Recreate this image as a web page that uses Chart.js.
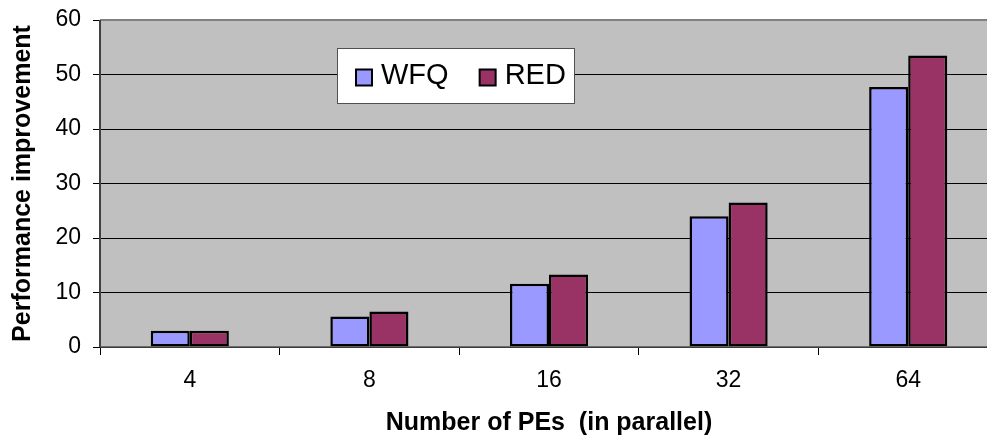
<!DOCTYPE html>
<html>
<head>
<meta charset="utf-8">
<script src="https://cdn.jsdelivr.net/npm/chart.js@4.4.1/dist/chart.umd.min.js"></script>
<style>
  html, body { margin: 0; padding: 0; background: #fff; overflow: hidden; }
  #wrap { width: 1010px; height: 441px; }
</style>
</head>
<body>
<div id="wrap"><canvas id="c" width="1010" height="441"></canvas></div>
<script>
// Number of processing elements run in parallel
const categories = ['4', '8', '16', '32', '64'];
// Performance improvement per queueing scheme
const wfqValues = [3.0, 5.6, 11.6, 24.0, 47.7];
const redValues = [3.0, 6.5, 13.3, 26.5, 53.5];
const seriesNames = ['WFQ', 'RED'];
const yTicks = [0, 10, 20, 30, 40, 50, 60];

const FONT = '"Liberation Sans", Arial, sans-serif';

// Grey plot-area fill behind the bars, plus frame and axis lines on top
const plotBackground = {
  id: 'plotBackground',
  beforeDraw(chart) {
    const { ctx, chartArea: a } = chart;
    ctx.save();
    ctx.fillStyle = '#C0C0C0';
    ctx.fillRect(a.left, a.top, a.right - a.left, a.bottom - a.top);
    ctx.restore();
  },
  afterDatasetsDraw(chart) {
    const { ctx, chartArea: a } = chart;
    ctx.save();
    ctx.strokeStyle = '#808080';
    ctx.lineWidth = 2;
    ctx.beginPath();
    ctx.moveTo(a.left, a.top);
    ctx.lineTo(a.right, a.top);
    ctx.stroke();
    ctx.strokeStyle = '#404040';
    ctx.lineWidth = 2;
    ctx.beginPath();
    ctx.moveTo(a.left, a.top);
    ctx.lineTo(a.left, a.bottom);
    ctx.stroke();
    ctx.lineWidth = 1.5;
    ctx.strokeStyle = '#505050';
    ctx.beginPath();
    ctx.moveTo(a.left, a.bottom);
    ctx.lineTo(a.right, a.bottom);
    ctx.stroke();
    ctx.restore();
  }
};

// Boxed legend floating inside the plot area
const boxedLegend = {
  id: 'boxedLegend',
  afterDraw(chart, args, opts) {
    const { ctx } = chart;
    ctx.save();
    ctx.fillStyle = '#fff';
    ctx.fillRect(opts.x, opts.y, opts.w, opts.h);
    ctx.strokeStyle = '#505050';
    ctx.lineWidth = 1;
    ctx.strokeRect(opts.x + 0.5, opts.y + 0.5, opts.w, opts.h);
    ctx.font = opts.fontSize + 'px ' + FONT;
    ctx.textBaseline = 'middle';
    const cy = opts.y + opts.h / 2;
    let x = opts.x + opts.padLeft;
    chart.data.datasets.forEach((ds) => {
      ctx.fillStyle = ds.backgroundColor;
      ctx.fillRect(x, cy - opts.box / 2 + 2, opts.box, opts.box);
      ctx.strokeStyle = '#000';
      ctx.lineWidth = 2;
      ctx.strokeRect(x, cy - opts.box / 2 + 2, opts.box, opts.box);
      ctx.fillStyle = '#000';
      ctx.fillText(ds.label, x + opts.box + 9, cy);
      x += opts.box + 9 + ctx.measureText(ds.label).width + opts.gap;
    });
    ctx.restore();
  }
};

new Chart(document.getElementById('c'), {
  type: 'bar',
  data: {
    labels: categories,
    datasets: [
      {
        label: seriesNames[0],
        data: wfqValues,
        backgroundColor: '#9999FF',
        borderColor: '#000',
        borderWidth: 2.5,
        borderSkipped: false,
        categoryPercentage: 0.435,
        barPercentage: 1
      },
      {
        label: seriesNames[1],
        data: redValues,
        backgroundColor: '#993366',
        borderColor: '#000',
        borderWidth: 2.5,
        borderSkipped: false,
        categoryPercentage: 0.435,
        barPercentage: 1
      }
    ]
  },
  options: {
    responsive: false,
    animation: false,
    layout: { padding: { left: 0, right: 12, top: 20, bottom: 0 } },
    plugins: {
      legend: { display: false },
      tooltip: { enabled: false },
      boxedLegend: { x: 337, y: 48, w: 237, h: 55, padLeft: 19, box: 16, gap: 31, fontSize: 29 }
    },
    scales: {
      x: {
        grid: {
          offset: true,
          drawOnChartArea: false,
          drawTicks: true,
          tickLength: 8,
          color: '#000'
        },
        border: { display: false },
        ticks: {
          color: '#000',
          font: { family: FONT, size: 23 },
          padding: 12
        },
        title: {
          display: true,
          text: 'Number of PEs  (in parallel)',
          color: '#000',
          font: { family: FONT, size: 25, weight: 'bold' },
          padding: { top: 0, bottom: 3 }
        },
        afterFit(scale) {
          scale.height = 94;
          scale.paddingLeft = 0;
          scale.paddingRight = 0;
        }
      },
      y: {
        min: 0,
        max: 60,
        afterBuildTicks(scale) { scale.ticks = yTicks.map(v => ({ value: v })); },
        grid: {
          color: (c) => (c.tick && c.tick.value === 60 ? 'rgba(0,0,0,0)' : '#000'),
          tickColor: '#000',
          lineWidth: 1,
          drawTicks: true,
          tickLength: 7
        },
        border: { display: false },
        ticks: {
          color: '#000',
          font: { family: FONT, size: 23 },
          padding: 12
        },
        title: {
          display: true,
          text: 'Performance improvement',
          color: '#000',
          font: { family: FONT, size: 25, weight: 'bold' },
          padding: { top: 8, bottom: 0 }
        },
        afterFit(scale) {
          scale.width = 100;
          scale.paddingTop = 0;
          scale.paddingBottom = 0;
        }
      }
    }
  },
  plugins: [plotBackground, boxedLegend]
});
</script>
</body>
</html>
